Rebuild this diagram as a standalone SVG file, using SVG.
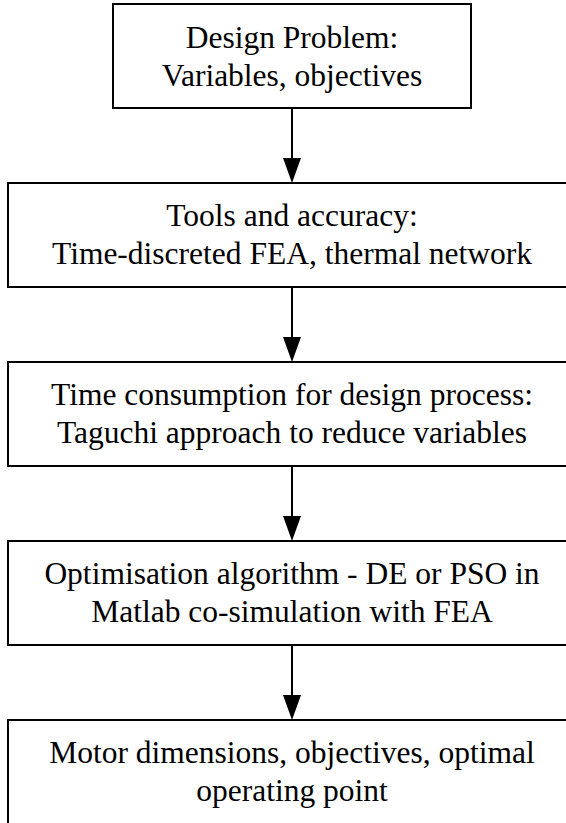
<svg xmlns="http://www.w3.org/2000/svg" width="566" height="823" viewBox="0 0 566 823">
  <style>
    .box { fill: #ffffff; stroke: #000000; stroke-width: 2; }
    .label { font-family: 'Liberation Serif', Tinos, 'Times New Roman', Times, 'DejaVu Serif', serif; font-size: 31.5px; fill: #000000; text-anchor: middle; }
    .link { stroke: #000000; stroke-width: 2; fill: none; }
    .head { fill: #000000; stroke: none; }
  </style>
  <rect width="566" height="823" fill="#ffffff"/>

  <g id="connectors">
    <line class="link" x1="292" y1="108" x2="292" y2="160"/>
    <polygon class="head" points="283,158 301,158 292,183"/>
    <line class="link" x1="292" y1="287" x2="292" y2="339"/>
    <polygon class="head" points="283,337 301,337 292,362"/>
    <line class="link" x1="292" y1="466" x2="292" y2="518"/>
    <polygon class="head" points="283,516 301,516 292,541"/>
    <line class="link" x1="292" y1="645" x2="292" y2="697"/>
    <polygon class="head" points="283,695 301,695 292,720"/>
  </g>

  <g id="design-problem">
    <rect class="box" x="113" y="4" width="358" height="104"/>
    <text class="label" x="292" y="48">Design Problem:</text>
    <text class="label" x="292" y="86">Variables, objectives</text>
  </g>

  <g id="tools-accuracy">
    <rect class="box" x="8" y="183" width="568" height="104"/>
    <text class="label" x="292" y="226">Tools and accuracy:</text>
    <text class="label" x="292" y="264">Time-discreted FEA, thermal network</text>
  </g>

  <g id="time-consumption">
    <rect class="box" x="8" y="362" width="568" height="104"/>
    <text class="label" x="292" y="405">Time consumption for design process:</text>
    <text class="label" x="292" y="443">Taguchi approach to reduce variables</text>
  </g>

  <g id="optimisation">
    <rect class="box" x="8" y="541" width="568" height="104"/>
    <text class="label" x="292" y="584">Optimisation algorithm - DE or PSO in</text>
    <text class="label" x="292" y="622">Matlab co-simulation with FEA</text>
  </g>

  <g id="motor-result">
    <rect class="box" x="8" y="720" width="568" height="110"/>
    <text class="label" x="292" y="763">Motor dimensions, objectives, optimal</text>
    <text class="label" x="292" y="801">operating point</text>
  </g>
</svg>
